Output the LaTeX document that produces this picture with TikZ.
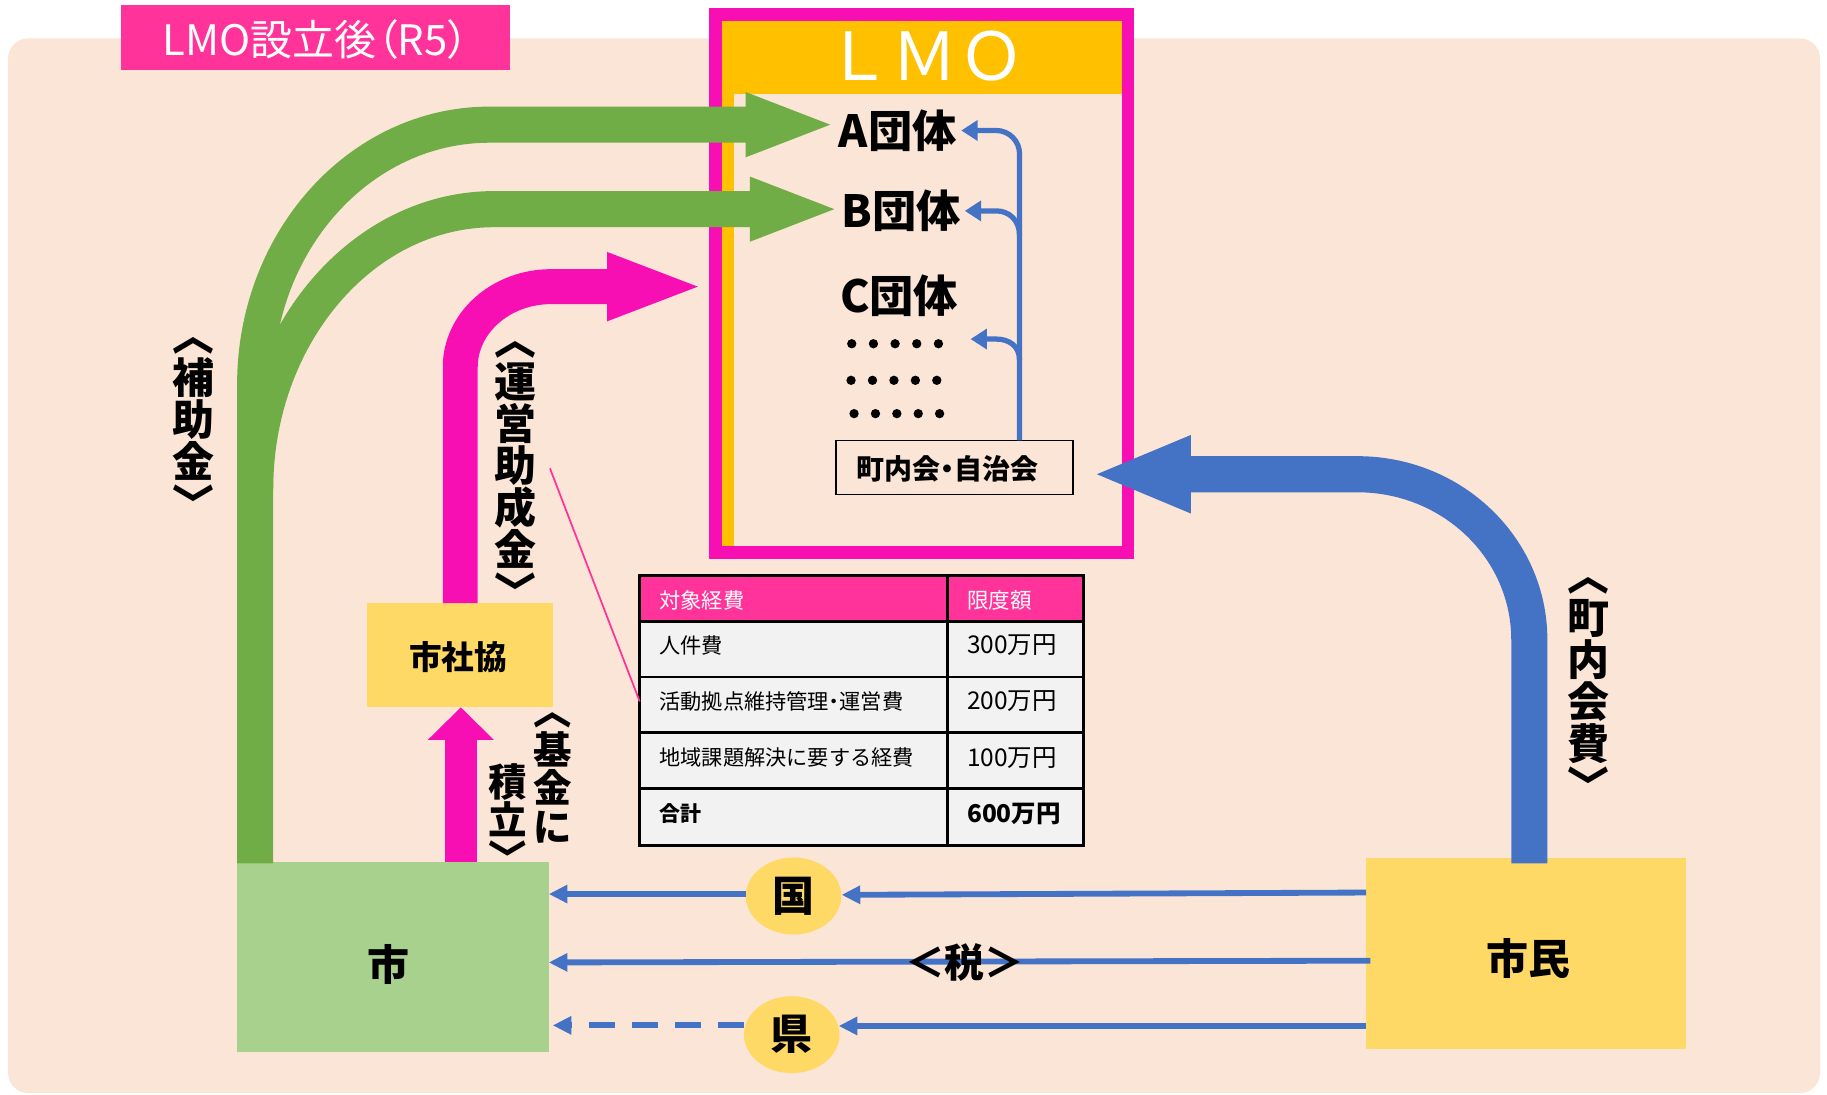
\documentclass[tikz,border=0pt]{standalone}
\usepackage{fontspec}
\setmainfont{Noto Sans CJK JP}
\newfontfamily\jpp{Noto Sans CJK JP}[RawFeature=+palt]
\newcommand{\pdot}{{\addfontfeature{RawFeature=+palt}・}}
\usetikzlibrary{arrows.meta,shapes.geometric}
\definecolor{bgpeach}{HTML}{FBE5D6}
\definecolor{titlepink}{HTML}{FF3399}
\definecolor{mag}{HTML}{F70FB4}
\definecolor{lmoyel}{HTML}{FFC000}
\definecolor{grn}{HTML}{70AD47}
\definecolor{blu}{HTML}{4472C4}
\definecolor{shigreen}{HTML}{A9D18E}
\definecolor{ylw}{HTML}{FFD966}
\definecolor{cellgray}{HTML}{F2F2F2}
\tikzset{
  fs/.style={font=\fontsize{#1}{#1}\selectfont},
  bfs/.style={font=\bfseries\fontsize{#1}{#1}\selectfont},
  vlab/.style={font=\bfseries\fontsize{#1}{#1}\selectfont, align=center, anchor=north},
  gband/.style={draw=grn, line width=31pt, -{Triangle[length=78pt,width=49pt]}},
  mband/.style={draw=mag, line width=30pt, -{Triangle[length=84pt,width=52pt]}},
  bband/.style={draw=blu, line width=31pt, -{Triangle[length=85pt,width=60pt]}},
  bthin/.style={draw=blu, line width=4.5pt, -{Triangle[length=14pt,width=17pt]}},
  taxline/.style={draw=blu, line width=5pt, -{Triangle[length=16pt,width=15pt]}},
  cell/.style={fs=18.2, anchor=west},
  numcell/.style={fs=21, anchor=west},
}
\begin{document}
\begin{tikzpicture}[x=1pt,y=-1pt, every node/.style={inner sep=0pt, outer sep=0pt}]
\useasboundingbox (0,0) rectangle (1568,939);
\fill[bgpeach, rounded corners=17pt] (7,33) rectangle (1562,938);

% title
\node[fill=titlepink, minimum width=334pt, minimum height=55pt] (title) at (271,32.2) {};
\node[text=white, font=\jpp\fontsize{36}{36}\selectfont] (titlet) at (271,34) {LMO設立後（R5）};

% LMO frame
\node[draw=mag, line width=11pt, fill=lmoyel, minimum width=354pt, minimum height=462pt, anchor=north west] (lmo) at (614,12.5) {};
\fill[bgpeach] (630,81) rectangle (962.5,469);
\node[text=white, fs=57] (lmot) at (793.8,48) {ＬＭＯ};

\node[bfs=38, anchor=west] (ga) at (720,112.3) {A団体};
\node[bfs=38, anchor=west] (gb) at (722,181) {B団体};
\node[bfs=38, anchor=west] (gc) at (721,253.7) {C団体};
\foreach \i in {0,...,4} {
  \fill (731+18.6*\i,295) circle[radius=4pt];
  \fill (730.4+18.4*\i,326.4) circle[radius=4pt];
  \fill (733+18.35*\i,355) circle[radius=4pt];
}
\node[draw, line width=1.5pt, minimum width=203.8pt, minimum height=46.5pt] (chk) at (819.1,401.2) {};
\node[bfs=24, anchor=west] (chkt) at (735,402) {町内会\pdot 自治会};

% blue thin arrows inside LMO
\coordinate (v0) at (875,378);
\draw[bthin] (v0) -- (875,132) .. controls (875,121) and (866,112) .. (855,112) -- (825,112);
\draw[bthin] (875,202) .. controls (875,189) and (866,181) .. (855,181) -- (828,181);
\draw[bthin] (875,309) .. controls (875,297) and (866,291) .. (855,291) -- (833,291);

% boxes
\node[fill=shigreen, minimum width=268pt, minimum height=162.5pt] (shi) at (337,821.3) {};
\node[bfs=36] (shit) at (333,828) {市};
\node[fill=ylw, minimum width=274.3pt, minimum height=164.4pt] (shimin) at (1309.5,818.2) {};
\node[bfs=36] (shimint) at (1311.5,822.8) {市民};
\node[fill=ylw, minimum width=159.6pt, minimum height=89.4pt] (shakyo) at (394.8,562.3) {};
\node[bfs=28] (shakyot) at (393.2,564.3) {市社協};

% green bands
\coordinate (gA0) at (219,741);
\coordinate (gB0) at (219,420);
\coordinate (tipA) at (718,107);
\coordinate (tipB) at (721.5,179.5);
\draw[gband] (gA0) -- (219,330) .. controls (219,207) and (309,107) .. (420,107) -- (tipA);
\draw[gband] (gB0) .. controls (219,287.5) and (311,179.5) .. (424,179.5) -- (tipB);

% magenta band
\coordinate (mtip) at (605,246);
\draw[mband] (shakyo.north -| 395,0) -- (395,315) .. controls (395,277) and (430,246) .. (473,246) -- (mtip);
\coordinate (m0) at (395.5,740);
\draw[draw=mag, line width=27pt, -{Triangle[length=28pt,width=55pt]}] (m0) -- (shakyo.south -| m0);

% blue band
\coordinate (btip) at (937,407);
\draw[bband] (1312.5,741) -- (1312.5,549) .. controls (1312.5,470.6) and (1246.5,407) .. (1165,407) -- (btip);

% tax
\node[ellipse, fill=ylw, minimum width=82pt, minimum height=66pt, bfs=36] (kuni) at (681,769) {国};
\node[ellipse, fill=ylw, minimum width=82pt, minimum height=66pt, bfs=36] (ken) at (679.5,888) {県};
\coordinate (t1) at (1172.4,766);
\coordinate (t2) at (1176,824.5);
\coordinate (t3) at (1172.4,880.5);
\draw[taxline] (t1) -- (722.3,768);
\draw[taxline] (640,767.3) -- (471,767.3);
\draw[taxline] (t2) -- (471,826);
\draw[taxline] (t3) -- (719.8,880.5);
\draw[taxline, dash pattern=on 22pt off 15pt] (638.5,880) -- (474.4,880);
\node[bfs=34] (zei) at (828,826) {＜税＞};

% table
\fill[titlepink] (549,494) rectangle (930,533);
\fill[cellgray] (549,533) rectangle (930,726);
\draw[line width=2.5pt] (549,494) rectangle (930,726);
\foreach \yy in {533,581,629,677} \draw[line width=2.5pt] (549,\yy) -- (930,\yy);
\draw[line width=2.5pt] (813,494) -- (813,726);
\node[cell, text=white] (h1) at (566,515) {対象経費};
\node[cell, text=white, fs=18.5] (h2) at (830,515) {限度額};
\node[cell] (r1a) at (566,554) {人件費};
\node[numcell] (r1b) at (830,554) {300万円};
\node[cell] (r2a) at (566,602) {活動拠点維持管理\pdot 運営費};
\node[numcell] (r2b) at (830,602) {200万円};
\node[cell] (r3a) at (566,650.5) {地域課題解決に要する経費};
\node[numcell] (r3b) at (830,650.5) {100万円};
\node[cell, font=\bfseries\fontsize{18}{18}\selectfont] (r4a) at (566,698.5) {合計};
\node[numcell, font=\bfseries\fontsize{21}{21}\selectfont] (r4b) at (830,698.5) {600万円};

% vertical labels
\node[vlab=36] (lhojo) at (166,290) {︿\\補\\助\\金\\﹀};
\node[vlab=36] (lunei) at (442,293) {︿\\運\\営\\助\\成\\金\\﹀};
\node[vlab=33] (lkikin1) at (474.5,612) {︿\\基\\金\\に};
\node[vlab=33] (lkikin2) at (436,655) {積\\立\\﹀};
\node[vlab=36] (lchonai) at (1363,496) {︿\\町\\内\\会\\費\\﹀};

% pointer line
\coordinate (pl0) at (472,402);
\draw[titlepink, line width=1.5pt] (pl0) -- (r2a.west -| 549,0 |- 0,609);
\end{tikzpicture}
\end{document}
